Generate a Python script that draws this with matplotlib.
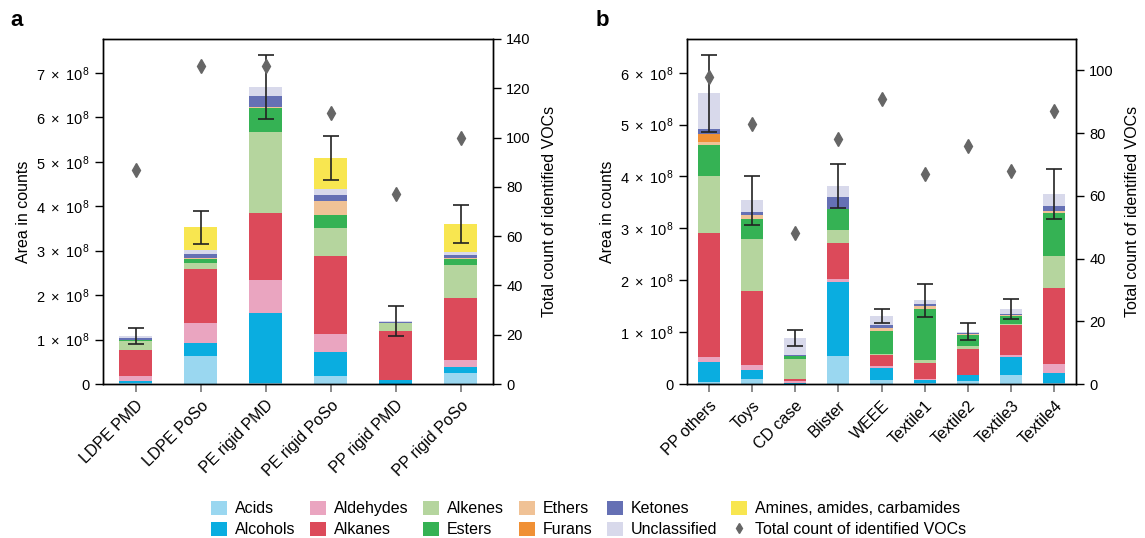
import matplotlib
matplotlib.use("Agg")
import matplotlib.pyplot as plt
import numpy as np
from matplotlib.ticker import FuncFormatter, MultipleLocator
from matplotlib.patches import Patch
from matplotlib.lines import Line2D

plt.rcParams['font.family'] = ['Liberation Sans', 'DejaVu Sans']
plt.rcParams['mathtext.fontset'] = 'custom'
plt.rcParams['mathtext.rm'] = 'Liberation Sans'
plt.rcParams['mathtext.it'] = 'Liberation Sans'

classes = ["Acids", "Alcohols", "Aldehydes", "Alkanes", "Alkenes", "Esters",
           "Ethers", "Furans", "Ketones", "Unclassified", "Amines, amides, carbamides"]
colors = ["#9AD7F0", "#0AADE0", "#EAA5C0", "#DC4A5A", "#B5D59E", "#35B254",
          "#F0C296", "#F09035", "#6570B4", "#D8D9EB", "#F8E650"]

# Panel a (values in 1e8 counts)
cats_a = ["LDPE PMD", "LDPE PoSo", "PE rigid PMD", "PE rigid PoSo", "PP rigid PMD", "PP rigid PoSo"]
acids_a        = [0.03, 0.63, 0.02, 0.18, 0.00, 0.25]
alcohols_a     = [0.045, 0.29, 1.57, 0.54, 0.10, 0.135]
aldehydes_a    = [0.105, 0.45, 0.74, 0.40, 0.00, 0.16]
alkanes_a      = [0.58, 1.21, 1.51, 1.75, 1.09, 1.39]
alkenes_a      = [0.20, 0.15, 1.82, 0.63, 0.18, 0.74]
esters_a       = [0.03, 0.075, 0.54, 0.31, 0.00, 0.135]
ethers_a       = [0.00, 0.02, 0.02, 0.31, 0.00, 0.02]
furans_a       = [0.00, 0.00, 0.00, 0.00, 0.00, 0.00]
ketones_a      = [0.045, 0.105, 0.25, 0.135, 0.02, 0.07]
unclassified_a = [0.045, 0.075, 0.20, 0.14, 0.03, 0.075]
amines_a       = [0.00, 0.52, 0.00, 0.69, 0.00, 0.62]
err_a          = [0.18, 0.37, 0.72, 0.50, 0.34, 0.43]
count_a        = [87, 129, 129, 110, 77, 100]

# Panel b (values in 1e8 counts)
cats_b = ["PP others", "Toys", "CD case", "Blister", "WEEE", "Textile1", "Textile2", "Textile3", "Textile4"]
acids_b        = [0.03, 0.10, 0.00, 0.54, 0.08, 0.02, 0.06, 0.17, 0.01]
alcohols_b     = [0.40, 0.17, 0.02, 1.43, 0.23, 0.06, 0.12, 0.35, 0.21]
aldehydes_b    = [0.10, 0.10, 0.03, 0.06, 0.04, 0.02, 0.00, 0.04, 0.17]
alkanes_b      = [2.39, 1.43, 0.04, 0.69, 0.21, 0.31, 0.50, 0.58, 1.47]
alkenes_b      = [1.08, 1.00, 0.39, 0.25, 0.02, 0.06, 0.06, 0.02, 0.60]
esters_b       = [0.60, 0.39, 0.065, 0.41, 0.44, 0.98, 0.21, 0.15, 0.83]
ethers_b       = [0.06, 0.06, 0.00, 0.00, 0.06, 0.06, 0.02, 0.02, 0.04]
furans_b       = [0.15, 0.00, 0.00, 0.00, 0.00, 0.00, 0.00, 0.00, 0.00]
ketones_b      = [0.10, 0.06, 0.02, 0.23, 0.06, 0.04, 0.02, 0.02, 0.10]
unclassified_b = [0.69, 0.23, 0.32, 0.21, 0.17, 0.06, 0.02, 0.10, 0.23]
amines_b       = [0.00, 0.00, 0.00, 0.00, 0.00, 0.00, 0.00, 0.00, 0.00]
err_b          = [0.74, 0.47, 0.15, 0.43, 0.14, 0.31, 0.16, 0.19, 0.48]
count_b        = [98, 83, 48, 78, 91, 67, 76, 68, 87]

series_a = [acids_a, alcohols_a, aldehydes_a, alkanes_a, alkenes_a, esters_a,
            ethers_a, furans_a, ketones_a, unclassified_a, amines_a]
series_b = [acids_b, alcohols_b, aldehydes_b, alkanes_b, alkenes_b, esters_b,
            ethers_b, furans_b, ketones_b, unclassified_b, amines_b]

fig = plt.figure(figsize=(11.45, 5.38), dpi=100)
ax_a = fig.add_axes([103/1145, 1-384/538, 390/1145, 345/538])
ax_b = fig.add_axes([687/1145, 1-384/538, 389/1145, 345/538])

def sci_fmt(v, pos):
    if v == 0:
        return "0"
    m = v / 1e8
    return r"$%d\ \times\ 10^{8}$" % round(m)

def draw(ax, cats, series, err, count, ylim, ylim2, width):
    x = np.arange(len(cats))
    bottom = np.zeros(len(cats))
    for vals, col in zip(series, colors):
        v = np.array(vals) * 1e8
        ax.bar(x, v, width, bottom=bottom, color=col, edgecolor='none', zorder=2)
        bottom += v
    ax.errorbar(x, bottom, yerr=np.array(err) * 1e8, fmt='none', ecolor='#222222',
                elinewidth=1.2, capsize=6, capthick=1.2, zorder=4)
    ax.set_xlim(-0.5, len(cats) - 0.5)
    ax.set_ylim(0, ylim)
    ax.yaxis.set_major_locator(MultipleLocator(1e8))
    ax.yaxis.set_major_formatter(FuncFormatter(sci_fmt))
    ax.set_xticks(x)
    ax.set_xticklabels(cats, rotation=45, ha='right', rotation_mode='anchor', fontsize=11.5)
    ax.tick_params(axis='x', length=6, color='#777777', width=1.2, pad=4)
    ax.tick_params(axis='y', labelsize=10.5, length=6, width=1)
    ax.set_ylabel("Area in counts", fontsize=11.5)
    ax2 = ax.twinx()
    ax2.plot(x, count, linestyle='none', marker='d', color='#666666', markersize=7, zorder=5)
    ax2.set_ylim(0, ylim2)
    ax2.yaxis.set_major_locator(MultipleLocator(20))
    ax2.tick_params(axis='y', labelsize=10.5, length=6, width=1)
    ax2.set_ylabel("Total count of identified VOCs", fontsize=11.5, labelpad=8)
    for a in (ax, ax2):
        for s in a.spines.values():
            s.set_linewidth(1)
    return ax2

draw(ax_a, cats_a, series_a, err_a, count_a, 7.76e8, 140, 0.5)
draw(ax_b, cats_b, series_b, err_b, count_b, 6.65e8, 110, 0.51)

fig.text(10/1145, 1-21/538, "a", fontsize=16, fontweight='bold', va='center')
fig.text(596/1145, 1-21/538, "b", fontsize=16, fontweight='bold', va='center')

labels = ["Acids", "Alcohols", "Aldehydes", "Alkanes", "Alkenes", "Esters",
          "Ethers", "Furans", "Ketones", "Unclassified", "Amines, amides, carbamides",
          "Total count of identified VOCs"]
handles = [Patch(facecolor=c, edgecolor='none') for c in colors]
handles.append(Line2D([], [], linestyle='none', marker='d', color='#666666', markersize=5))
fig.legend(handles, labels, loc='center', bbox_to_anchor=(589/1145, 1-519/538), ncol=6,
           frameon=False, fontsize=11.5, handlelength=1.0, handleheight=1.0,
           columnspacing=0.9, handletextpad=0.5, labelspacing=0.35, borderpad=0)

fig.savefig("out.png", dpi=100)
